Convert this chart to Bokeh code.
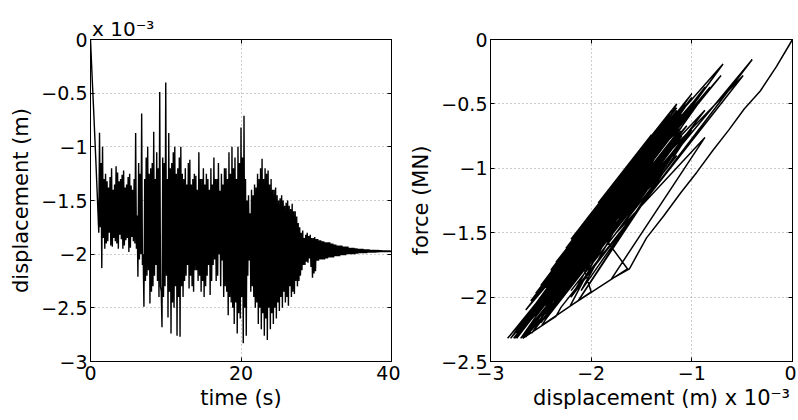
import numpy as np
from bokeh.plotting import figure
from bokeh.layouts import row
from bokeh.models import FixedTicker, LinearAxis, Range1d
from bokeh.embed import file_html
from bokeh.resources import INLINE

# displacement (x 10^-3 m), sampled every 0.1 s from 0 to 40 s
disp = [
    0, -0.16, -0.32, -0.48, -0.63, -0.79, -0.95, -1.11, -1.28, -1.45, -1.62, -1.80,
    -0.87, -1.75, -1.15, -2.13,   -1.00, -1.85, -1.30, -1.95,
    -1.25, -1.90, -1.32, -1.88,   -1.38, -1.80, -1.28, -1.92,
    -1.20, -1.93, -1.40, -1.85,   -1.35, -1.88, -1.18, -1.90,
    -1.24, -1.95, -1.32, -1.82,   -1.30, -1.86, -1.26, -1.95,
    -1.22, -1.92, -1.38, -1.87,   -1.35, -1.85, -1.28, -1.98,
    -1.25, -1.94, -1.36, -1.84,   -1.40, -1.88, -1.30, -1.90,
    -0.87, -1.95, -1.64, -2.21,   -1.15, -2.05, -1.25, -2.00,
    -0.69, -2.10, -2.00, -2.49,   -1.30, -2.25, -1.10, -2.20,
    -1.00, -2.15, -1.25, -2.46,   -1.20, -2.35, -1.15, -2.30,
    -0.86, -2.20, -1.30, -2.10,   -1.05, -2.25, -1.20, -2.40,
    -0.49, -2.30, -2.35, -2.68,   -1.10, -2.40, -1.15, -2.30,
    -0.40, -2.20, -1.30, -2.59,   -0.87, -2.35, -1.20, -2.74,
    -1.15, -2.45, -1.05, -2.50,   -1.00, -2.30, -1.25, -2.76,
    -1.20, -2.40, -1.10, -2.77,   -1.00, -2.30, -1.25, -2.40,
    -1.30, -2.25, -1.20, -2.20,   -1.35, -2.10, -1.15, -2.32,
    -1.12, -2.20, -1.35, -2.30,   -1.30, -2.35, -1.25, -2.15,
    -1.27, -2.15, -1.40, -2.25,   -1.05, -2.20, -1.30, -2.35,
    -1.30, -2.25, -1.20, -2.40,   -1.35, -2.30, -1.25, -2.20,
    -1.30, -2.10, -1.40, -2.38,   -1.20, -2.25, -1.35, -2.10,
    -1.10, -2.05, -1.30, -2.25,   -1.30, -2.20, -1.15, -2.00,
    -1.41, -2.30, -1.25, -2.06,   -1.35, -2.40, -1.20, -2.30,
    -1.20, -2.35, -1.30, -2.57,   -1.05, -2.40, -1.25, -2.45,
    -1.00, -2.50, -1.20, -2.65,   -1.10, -2.45, -1.30, -2.74,
    -1.00, -2.55, -1.15, -2.60,   -0.82, -2.40, -1.10, -2.83,
    -0.71, -2.50, -1.30, -2.76,   -1.50, -2.20, -1.45, -2.06,
    -1.62, -2.35, -1.40, -2.30,   -1.45, -2.40, -1.35, -2.50,
    -1.38, -2.45, -1.25, -2.65,   -1.30, -2.50, -1.20, -2.70,
    -1.11, -2.55, -1.30, -2.76,   -1.20, -2.60, -1.25, -2.80,
    -1.22, -2.50, -1.35, -2.70,   -1.30, -2.55, -1.40, -2.65,
    -1.40, -2.50, -1.38, -2.60,   -1.45, -2.45, -1.50, -2.53,
    -1.48, -2.40, -1.45, -2.50,   -1.50, -2.35, -1.55, -2.45,
    -1.52, -2.40, -1.50, -2.48,   -1.55, -2.30, -1.58, -2.40,
    -1.53, -2.35, -1.60, -2.37,   -1.60, -2.25, -1.65, -2.30,
    -1.71, -2.25, -1.75, -2.20,   -1.80, -2.15, -1.78, -2.10,
    -1.85, -2.10, -1.82, -2.07,   -1.80, -2.08, -1.83, -2.04,
    -1.82, -2.12, -1.85, -2.22,   -1.85, -2.18, -1.84, -2.16,
    -1.86, -2.06, -1.86, -2.06,   -1.87, -2.05, -1.87, -2.05,
    -1.88, -2.05, -1.88, -2.05,   -1.89, -2.04, -1.89, -2.04,
    -1.89, -2.03, -1.89, -2.03,   -1.90, -2.03, -1.90, -2.03,
    -1.91, -2.02, -1.91, -2.02,   -1.92, -2.02, -1.92, -2.02,
    -1.92, -2.01, -1.92, -2.01,   -1.93, -2.01, -1.93, -2.01,
    -1.93, -2.00, -1.93, -2.00,   -1.94, -2.00, -1.94, -2.00,
    -1.94, -2.00, -1.94, -2.00,   -1.945, -1.995, -1.945, -1.995,
    -1.95, -1.99, -1.95, -1.99,   -1.95, -1.99, -1.95, -1.99,
    -1.955, -1.99, -1.955, -1.99,   -1.955, -1.985, -1.955, -1.985,
    -1.96, -1.985, -1.96, -1.985,   -1.96, -1.985, -1.96, -1.985,
    -1.962, -1.982, -1.962, -1.982,   -1.964, -1.98, -1.964, -1.98,
    -1.966, -1.98, -1.966, -1.98,   -1.967, -1.978, -1.967, -1.978,
    -1.968, -1.977, -1.968, -1.977,
    -1.972,
]

# force (MN) at the same instants
force = [
    0, -0.21, -0.40, -0.54, -0.70, -0.86, -1.03, -1.19, -1.37, -1.54, -1.78, -1.86,
    -0.76, -1.50, -0.85, -2.03,   -0.70, -1.55, -1.00, -1.65,
    -0.63, -1.28, -0.70, -1.26,   -0.93, -1.35, -0.83, -1.47,
    -0.55, -1.27, -0.74, -1.19,   -0.99, -1.52, -0.82, -1.54,
    -0.69, -1.40, -0.77, -1.27,   -1.05, -1.61, -1.01, -1.70,
    -0.58, -1.28, -0.74, -1.23,   -0.87, -1.37, -0.80, -1.50,
    -0.65, -1.34, -0.76, -1.24,   -1.00, -1.48, -0.90, -1.50,
    -0.37, -1.45, -1.78, -2.07,   -0.50, -1.40, -0.61, -1.35,
    -0.19, -1.70, -1.96, -2.22,   -0.78, -1.73, -0.58, -1.68,
    -0.42, -1.55, -0.95, -2.18,   -0.58, -1.73, -0.53, -1.68,
    -0.37, -1.75, -1.05, -1.95,   -0.47, -1.67, -0.62, -1.82,
    -0.28, -2.08, -2.15, -2.32,   -0.75, -2.05, -0.80, -1.95,
    -0.155, -2.00, -0.75, -2.28,  -0.55, -1.78, -0.65, -2.32,
    -0.70, -2.00, -0.60, -2.05,   -0.42, -1.70, -0.65, -2.32,
    -0.70, -1.90, -0.60, -2.32,   -0.70, -2.00, -0.95, -2.10,
    -0.65, -1.62, -0.55, -1.55,   -0.95, -1.70, -0.75, -1.92,
    -0.57, -1.65, -0.80, -1.75,   -1.02, -2.07, -0.97, -1.87,
    -0.64, -1.52, -0.77, -1.62,   -0.60, -1.75, -0.85, -1.90,
    -0.70, -1.65, -0.60, -1.80,   -1.00, -1.95, -0.90, -1.85,
    -0.78, -1.58, -0.88, -1.86,   -0.55, -1.62, -0.70, -1.45,
    -0.68, -1.63, -0.88, -1.83,   -1.05, -1.95, -0.90, -1.75,
    -0.83, -1.72, -0.67, -1.48,   -0.85, -1.90, -0.70, -1.80,
    -0.58, -1.73, -0.68, -2.00,   -0.67, -2.02, -0.87, -2.07,
    -0.45, -1.95, -0.65, -2.10,   -0.65, -2.00, -0.85, -2.28,
    -0.42, -1.97, -0.55, -2.03,   -0.37, -2.10, -0.75, -2.32,
    -0.28, -1.93, -0.72, -2.32,   -1.20, -1.90, -1.15, -1.76,
    -1.12, -1.85, -0.90, -1.80,   -0.82, -1.79, -0.72, -1.91,
    -1.10, -2.17, -0.97, -2.31,   -0.80, -2.00, -0.70, -2.22,
    -0.71, -2.15, -0.90, -2.32,   -0.60, -2.03, -0.65, -2.32,
    -0.87, -2.15, -1.00, -2.32,   -0.75, -2.00, -0.85, -2.10,
    -0.95, -2.05, -0.93, -2.15,   -0.83, -1.86, -0.88, -1.95,
    -1.18, -2.10, -1.15, -2.20,   -0.98, -1.83, -1.03, -1.93,
    -0.88, -1.79, -0.86, -1.89,   -1.15, -1.90, -1.18, -2.00,
    -0.95, -1.77, -1.02, -1.79,   -1.13, -1.78, -1.18, -1.83,
    -1.08, -1.62, -1.12, -1.57,   -1.25, -1.60, -1.23, -1.55,
    -1.25, -1.50, -1.22, -1.47,   -1.18, -1.46, -1.21, -1.42,
    -1.24, -1.54, -1.27, -1.64,   -1.27, -1.60, -1.26, -1.58,
    -1.27, -1.48, -1.27, -1.48,   -1.28, -1.47, -1.28, -1.47,
    -1.29, -1.47, -1.29, -1.47,   -1.30, -1.46, -1.30, -1.46,
    -1.30, -1.45, -1.30, -1.45,   -1.31, -1.45, -1.31, -1.45,
    -1.32, -1.44, -1.32, -1.44,   -1.33, -1.44, -1.33, -1.44,
    -1.33, -1.43, -1.33, -1.43,   -1.34, -1.43, -1.34, -1.43,
    -1.34, -1.42, -1.34, -1.42,   -1.35, -1.42, -1.35, -1.42,
    -1.35, -1.42, -1.35, -1.42,   -1.36, -1.415, -1.36, -1.415,
    -1.365, -1.41, -1.365, -1.41,   -1.365, -1.41, -1.365, -1.41,
    -1.37, -1.41, -1.37, -1.41,   -1.37, -1.40, -1.37, -1.40,
    -1.375, -1.40, -1.375, -1.40,   -1.375, -1.40, -1.375, -1.40,
    -1.378, -1.398, -1.378, -1.398,   -1.38, -1.396, -1.38, -1.396,
    -1.382, -1.395, -1.382, -1.395,   -1.383, -1.393, -1.383, -1.393,
    -1.384, -1.392, -1.384, -1.392,
    -1.388,
]

n = min(len(disp), len(force))
disp = disp[:n]
force = force[:n]
time = np.linspace(0, 40, n)

time_ticks = [0.0, 20.0, 40.0]
time_labels = ["0", "20", "40"]
disp_ticks = [-3.0, -2.5, -2.0, -1.5, -1.0, -0.5, 0.0]
disp_labels = ["−3", "−2.5", "−2", "−1.5", "−1", "−0.5", "0"]
dx_ticks = [-3.0, -2.0, -1.0, 0.0]
dx_labels = ["−3", "−2", "−1", "0"]
force_ticks = [-2.5, -2.0, -1.5, -1.0, -0.5, 0.0]
force_labels = ["−2.5", "−2", "−1.5", "−1", "−0.5", "0"]
multiplier = "x 10⁻³"

FONT = "DejaVu Sans"
NB = "\u00a0"


def style(p, xt, xl, yt, yl):
    p.outline_line_color = "black"
    p.outline_line_width = 1
    p.outline_line_alpha = 1
    p.xaxis.ticker = FixedTicker(ticks=xt)
    p.yaxis.ticker = FixedTicker(ticks=yt)
    p.xaxis.major_label_overrides = dict(zip(xt, xl))
    p.yaxis.major_label_overrides = dict(zip(yt, yl))
    for ax in p.axis:
        ax.axis_line_color = "black"
        ax.major_tick_line_color = "black"
        ax.major_tick_in = 4
        ax.major_tick_out = 0
        ax.minor_tick_line_color = None
        ax.major_label_text_font = FONT
        ax.major_label_text_font_size = "19px"
        ax.major_label_text_color = "black"
        ax.axis_label_text_font = FONT
        ax.axis_label_text_font_size = "21px"
        ax.axis_label_text_font_style = "normal"
        ax.axis_label_text_color = "black"
    p.xaxis.major_label_standoff = 4
    p.yaxis.major_label_standoff = 3
    p.xaxis.axis_label_standoff = 3
    p.yaxis.axis_label_standoff = 5
    p.xgrid.ticker = FixedTicker(ticks=xt)
    p.ygrid.ticker = FixedTicker(ticks=yt)
    p.grid.grid_line_color = "#9a9a9a"
    p.grid.grid_line_dash = "1 3"
    p.grid.grid_line_width = 1
    # ticks on the top and right edges (no labels), like a boxed axes
    for loc, tk in (("above", xt), ("right", yt)):
        ax = LinearAxis(ticker=FixedTicker(ticks=tk), major_label_text_color=None,
                        major_label_text_font_size="1px", major_label_standoff=0,
                        major_tick_in=4, major_tick_out=0,
                        minor_tick_line_color=None, axis_line_color="black")
        p.add_layout(ax, loc)


p1 = figure(frame_width=301, frame_height=322, output_backend="svg", toolbar_location=None,
            x_range=Range1d(0, 40), y_range=Range1d(-3, 0),
            min_border_left=90, min_border_right=9, min_border_top=39, min_border_bottom=59,
            x_axis_label="time (s)", y_axis_label="displacement (m)")
style(p1, time_ticks, time_labels, disp_ticks, disp_labels)
p1.line(time, disp, line_color="black", line_width=1.4)
p1.title.text = multiplier
p1.title.align = "left"
p1.title.offset = 1.5
p1.title.standoff = -3
p1.title.text_font = FONT
p1.title.text_font_size = "20px"
p1.title.text_font_style = "normal"
p1.title.text_color = "black"

p2 = figure(frame_width=302, frame_height=322, output_backend="svg", toolbar_location=None,
            x_range=Range1d(-3, 0), y_range=Range1d(-2.5, 0),
            min_border_left=90, min_border_right=4, min_border_top=39, min_border_bottom=59,
            x_axis_label=NB * 6 + "displacement (m)" + NB + multiplier,
            y_axis_label="force (MN)")
style(p2, dx_ticks, dx_labels, force_ticks, force_labels)
p2.xaxis[0].axis_label_text_font_size = "19px"
p2.line(disp, force, line_color="black", line_width=1.5)

layout = row(p1, p2)
open("out.html", "w").write(file_html(layout, INLINE))
